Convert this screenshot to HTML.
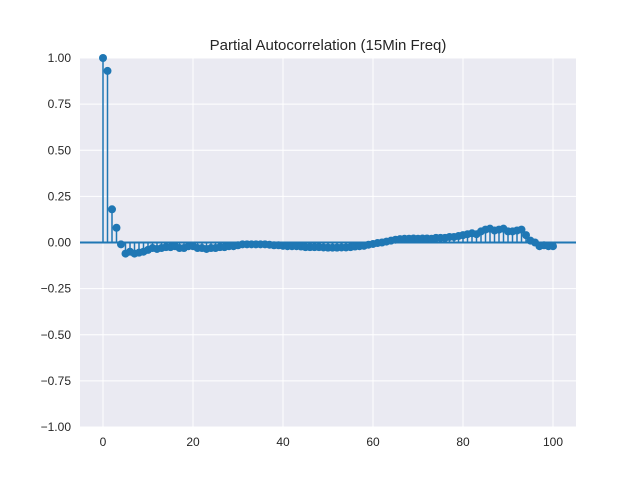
<!DOCTYPE html>
<html><head><meta charset="utf-8"><style>body{margin:0;background:#fff}svg{display:block}</style></head>
<body>
<svg id="c" width="640" height="480" xmlns="http://www.w3.org/2000/svg" font-family="Liberation Sans, DejaVu Sans, sans-serif">
<rect x="80" y="58" width="496" height="369" fill="#eaeaf2"/>
<g id="grid"></g><g id="ticks"></g><g id="marks"></g>
<text x="328" y="50" font-size="15" text-anchor="middle" fill="#262626">Partial Autocorrelation (15Min Freq)</text>
</svg>
<script>
const lags = Array.from({length:101},(_,i)=>i);
const pacf = [1,0.93,0.18,0.08,-0.01,-0.06,-0.05,-0.06,-0.055,-0.05,-0.04,-0.03,-0.035,-0.03,-0.025,-0.025,-0.02,-0.03,-0.03,-0.02,
-0.02,-0.03,-0.03,-0.035,-0.03,-0.03,-0.025,-0.025,-0.02,-0.02,-0.015,-0.01,-0.01,-0.01,-0.01,-0.01,-0.01,-0.012,-0.015,-0.015,
-0.018,-0.02,-0.02,-0.02,-0.022,-0.025,-0.025,-0.025,-0.025,-0.027,-0.028,-0.028,-0.028,-0.027,-0.027,-0.025,-0.022,-0.02,-0.018,-0.012,
-0.008,-0.003,0.0,0.005,0.01,0.015,0.018,0.02,0.02,0.022,0.02,0.022,0.022,0.02,0.025,0.025,0.025,0.03,0.03,0.035,
0.04,0.045,0.05,0.045,0.06,0.07,0.075,0.065,0.07,0.075,0.06,0.06,0.065,0.07,0.04,0.01,0.0,-0.02,-0.015,-0.02,-0.02];
const xTicks=[0,20,40,60,80,100];
const yTicks=[-1,-0.75,-0.5,-0.25,0,0.25,0.5,0.75,1];
const yLabels=["−1.00","−0.75","−0.50","−0.25","0.00","0.25","0.50","0.75","1.00"];
const NS="http://www.w3.org/2000/svg";
const X=v=>103+v*4.5, Y=v=>242.5-v*184.5;
function mk(t,a,p){const e=document.createElementNS(NS,t);for(const k in a)e.setAttribute(k,a[k]);p.appendChild(e);return e;}
const G=document.getElementById('grid'),T=document.getElementById('ticks'),M=document.getElementById('marks');
xTicks.forEach(v=>{const l=mk('line',{x1:X(v),x2:X(v),y1:58,y2:427,stroke:'#fff','stroke-width':1},G);

const t=mk('text',{x:X(v),y:446,'font-size':12,'text-anchor':'middle',fill:'#262626'},T);t.textContent=v;
});
yTicks.forEach((v,i)=>{const l=mk('line',{x1:80,x2:576,y1:Y(v),y2:Y(v),stroke:'#fff','stroke-width':1},G);

const t=mk('text',{x:71,y:Y(v)+4,'font-size':12,'text-anchor':'end',fill:'#262626'},T);t.textContent=yLabels[i];
});
const z=mk('line',{x1:80,x2:576,y1:Y(0),y2:Y(0),stroke:'#1f77b4','stroke-width':2},M);

lags.forEach((k,i)=>{const v=pacf[i];
const s=mk('line',{x1:X(k),x2:X(k),y1:Y(0),y2:Y(v),stroke:'#1f77b4','stroke-width':1.5},M);

const c=mk('circle',{cx:X(k),cy:Y(v),r:4,fill:'#1f77b4'},M);
});
</script>
</body></html>
